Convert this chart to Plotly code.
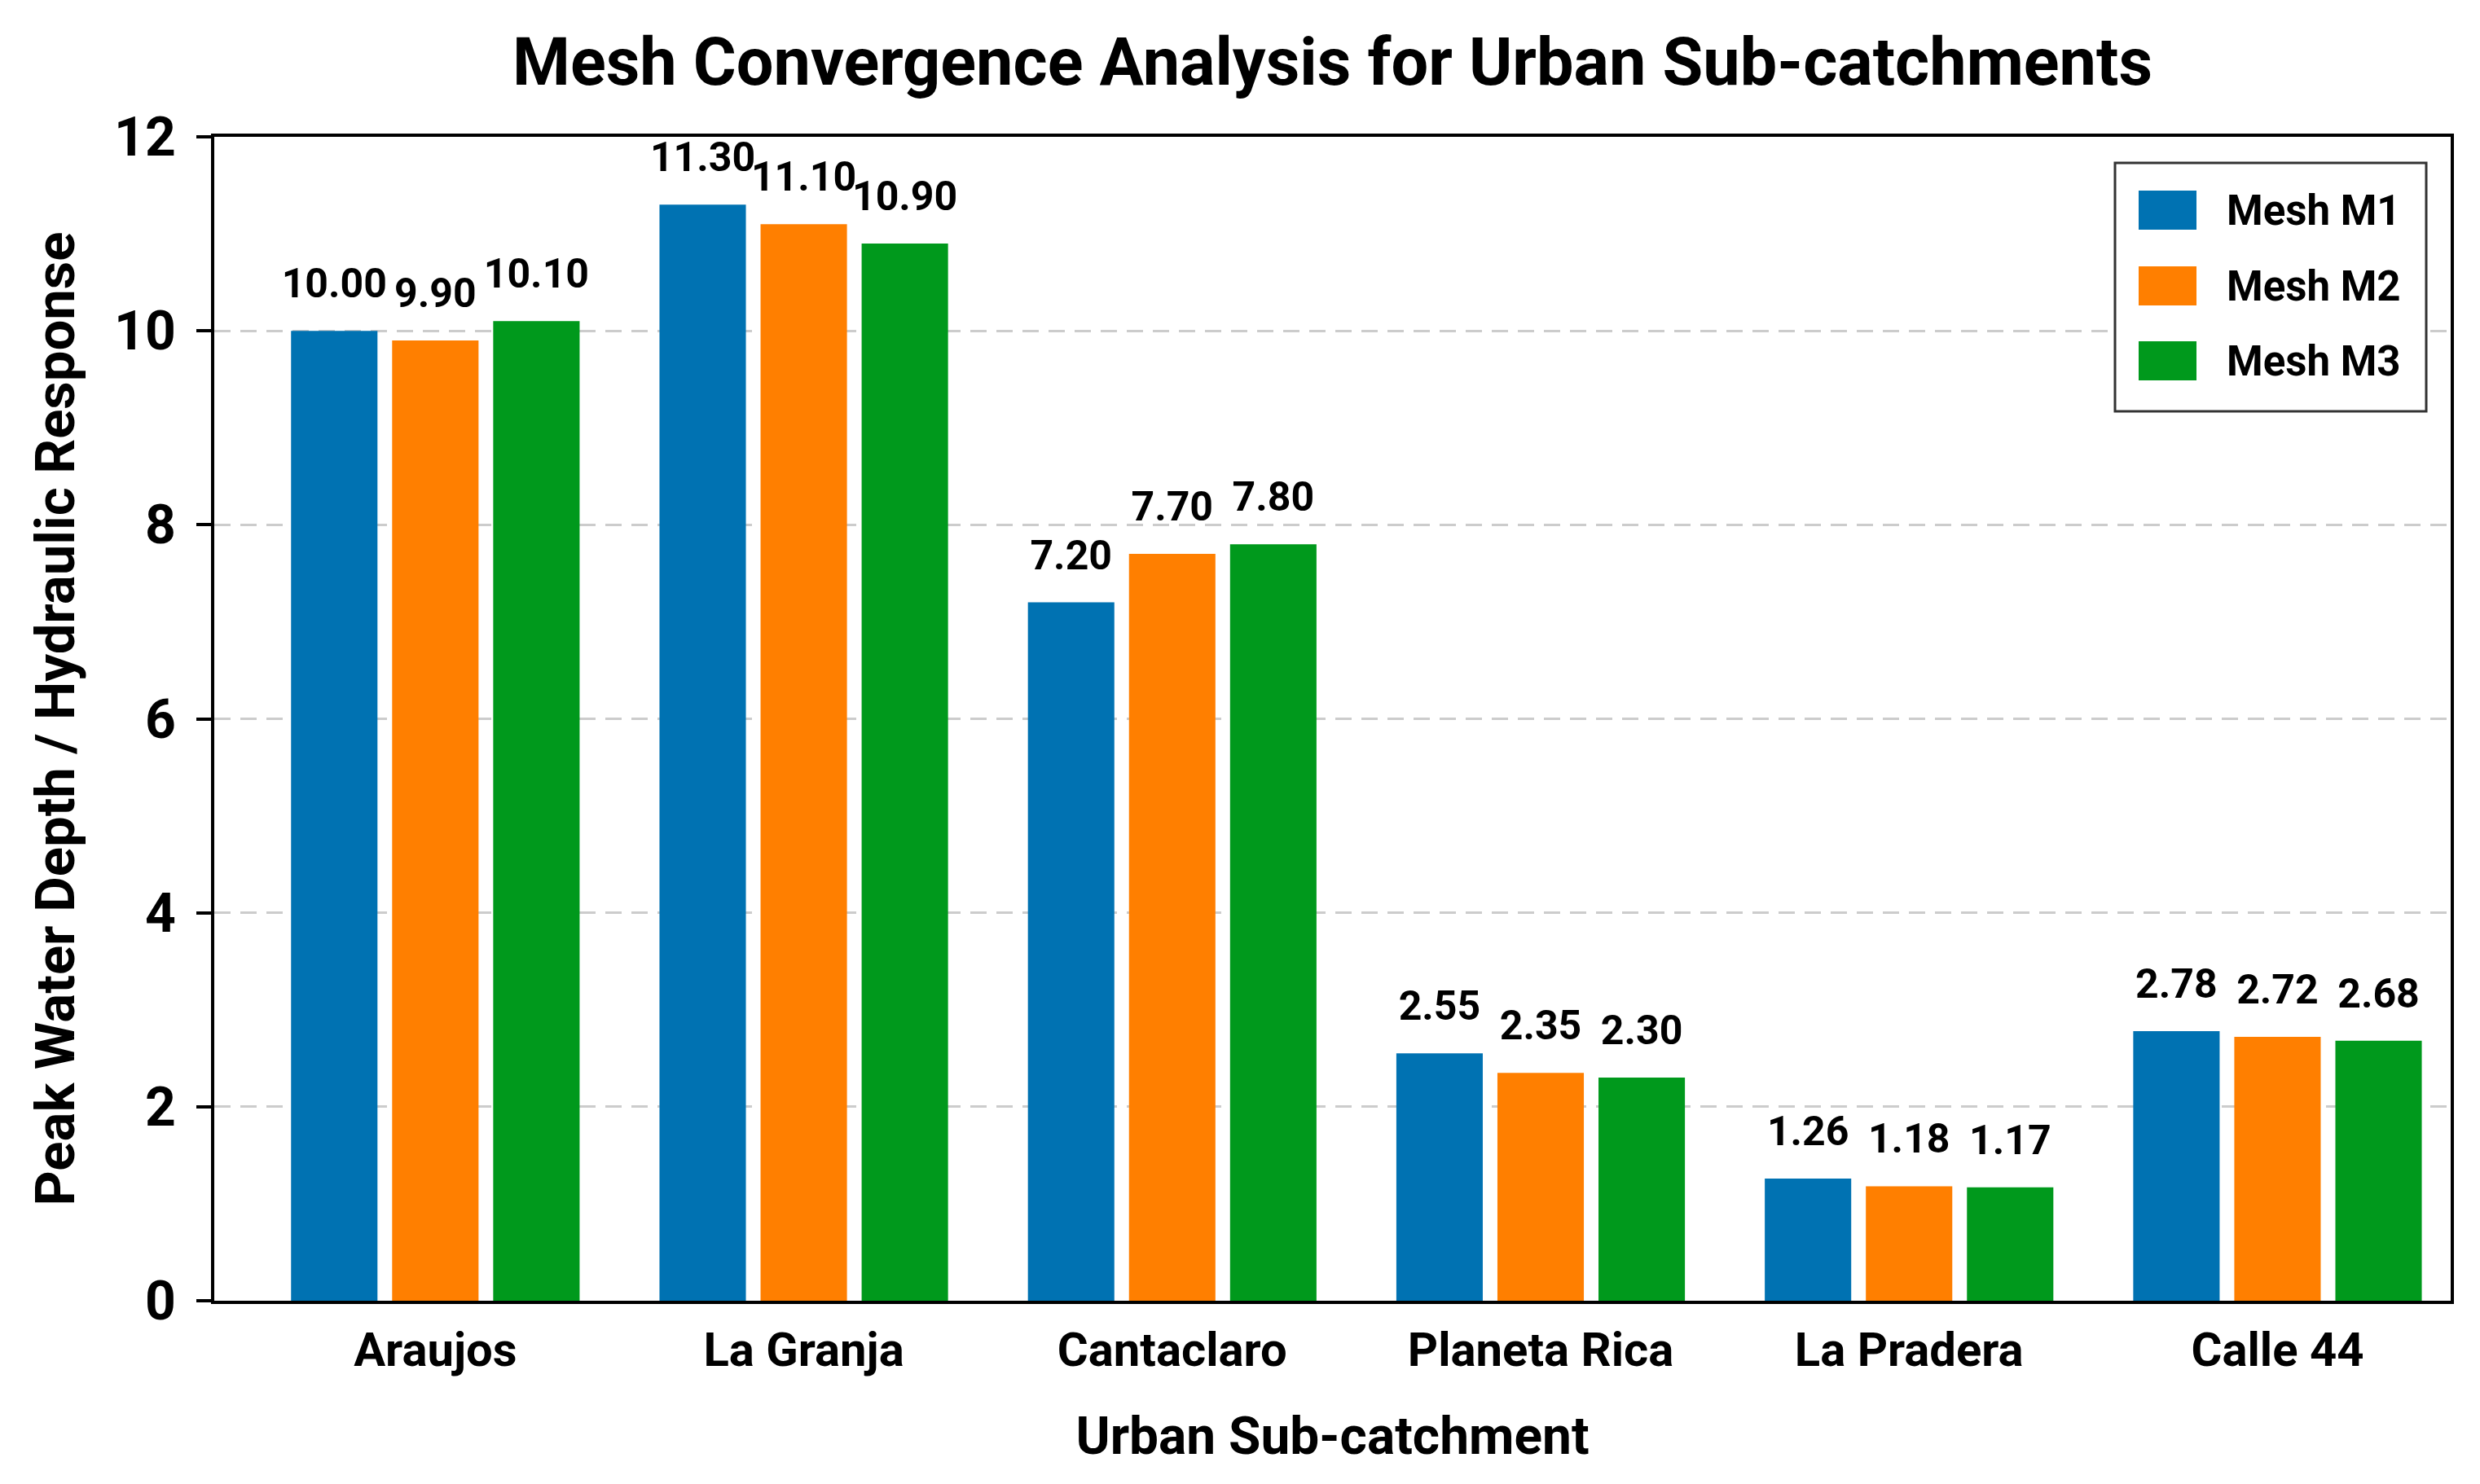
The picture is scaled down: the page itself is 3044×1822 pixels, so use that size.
import plotly.graph_objects as go

# sub-catchments and peak values per mesh
catchments = ["Araujos", "La Granja", "Cantaclaro", "Planeta Rica", "La Pradera", "Calle 44"]
mesh_m1 = [10.00, 11.30, 7.20, 2.55, 1.26, 2.78]
mesh_m2 = [9.90, 11.10, 7.70, 2.35, 1.18, 2.72]
mesh_m3 = [10.10, 10.90, 7.80, 2.30, 1.17, 2.68]
series_names = ["Mesh M1", "Mesh M2", "Mesh M3"]
series_colors = ["#0072B2", "#FF7F00", "#00991C"]
y_ticks = [0, 2, 4, 6, 8, 10, 12]

FONT = "Roboto"
BARGAP = 0.177

fig = go.Figure()
for name, vals, col in zip(series_names, [mesh_m1, mesh_m2, mesh_m3], series_colors):
    fig.add_trace(go.Bar(
        x=catchments, y=vals, name=name, offsetgroup=name,
        marker=dict(color=col, line=dict(width=0)),
        showlegend=False,
    ))
    # value labels, grouped like the bars, lifted a bit above each bar
    fig.add_trace(go.Scatter(
        x=catchments, y=vals, offsetgroup=name, mode="markers+text",
        text=[f"{v:.2f}" for v in vals], textposition="top center",
        marker=dict(size=44, color="rgba(0,0,0,0)"),
        textfont=dict(family=FONT, size=50, color="black", weight="bold"),
        cliponaxis=False, showlegend=False, hoverinfo="skip",
    ))

# hand-built legend (plotly's bar swatches are too small at this size)
plot_l, plot_r, plot_t, plot_b = 255, 3000, 160, 1589
def px(x):
    return (x - plot_l) / (plot_r - plot_l)
def py(y):
    return (plot_b - y) / (plot_b - plot_t)

shapes = [dict(type="rect", xref="paper", yref="paper",
               x0=px(2588), x1=px(2970), y0=py(497), y1=py(192),
               line=dict(color="#333333", width=3), fillcolor="white", layer="above")]
annotations = []
row_y = [250, 343, 435]
for name, col, ry in zip(series_names, series_colors, row_y):
    shapes.append(dict(type="rect", xref="paper", yref="paper",
                       x0=px(2617), x1=px(2688), y0=py(ry + 24), y1=py(ry - 24),
                       line=dict(width=0), fillcolor=col, layer="above"))
    annotations.append(dict(xref="paper", yref="paper", x=px(2723), y=py(ry),
                            text=name, showarrow=False, xanchor="left", yanchor="middle",
                            font=dict(family=FONT, size=51, color="black", weight="bold")))

fig.update_layout(
    width=3044, height=1822,
    margin=dict(l=plot_l, r=3044 - plot_r, t=plot_t, b=1822 - plot_b),
    paper_bgcolor="white", plot_bgcolor="white",
    barmode="group", bargap=BARGAP, bargroupgap=0.145,
    scattermode="group", scattergap=BARGAP,
    title=dict(text="Mesh Convergence Analysis for Urban Sub-catchments",
               x=0.5, xref="paper", xanchor="center", y=1 - 68 / 1822, yanchor="middle",
               font=dict(family=FONT, size=81, color="black", weight="bold")),
    shapes=shapes, annotations=annotations,
    font=dict(family=FONT, color="black"),
)
fig.update_xaxes(
    range=[-0.60, 5.47], showline=True, linewidth=4, linecolor="black", mirror=True,
    ticks="", showgrid=False, ticklabelstandoff=6,
    tickfont=dict(family=FONT, size=58, color="black", weight="bold"),
    title=dict(text="Urban Sub-catchment", standoff=52,
               font=dict(family=FONT, size=64, color="black", weight="bold")),
)
fig.update_yaxes(
    range=[0, 12], tickvals=y_ticks, showline=True, linewidth=4, linecolor="black", mirror=True,
    ticks="outside", ticklen=18, tickwidth=4, tickcolor="black", ticklabelstandoff=12,
    showgrid=True, gridcolor="#cccccc", griddash="20px,12px", gridwidth=3, zeroline=False,
    tickfont=dict(family=FONT, size=66, color="black", weight="bold"),
    title=dict(text="Peak Water Depth / Hydraulic Response", standoff=28,
               font=dict(family=FONT, size=67, color="black", weight="bold")),
)

fig.write_html("out.html")
